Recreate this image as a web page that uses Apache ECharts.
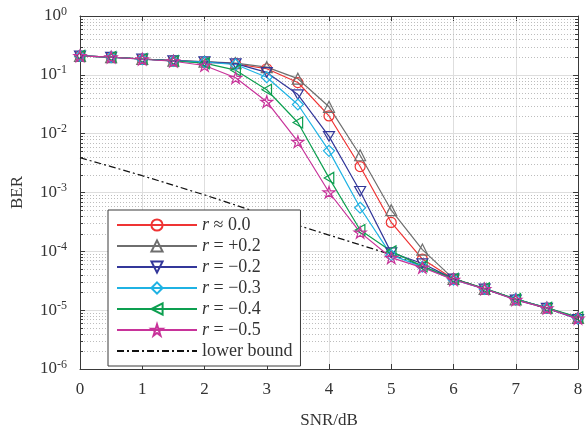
<!DOCTYPE html>
<html>
<head>
<meta charset="utf-8">
<script src="https://cdn.jsdelivr.net/npm/echarts@6/dist/echarts.min.js"></script>
<style>
  html, body { margin: 0; padding: 0; background: #fff; }
  #chart { width: 587px; height: 434px; }
</style>
</head>
<body>
<div id="chart"></div>
<script>
// SNR sweep (dB)
const snr = [0, 0.5, 1, 1.5, 2, 2.5, 3, 3.5, 4, 4.5, 5, 5.5, 6, 6.5, 7, 7.5, 8];

// BER per correlation coefficient r
const berR0   = [0.21, 0.20, 0.186, 0.174, 0.165, 0.153, 0.127, 0.074, 0.020, 0.00276, 3.1e-4, 7.4e-5, 3.4e-5, 2.3e-5, 1.53e-5, 1.1e-5, 7.3e-6];
const berRp02 = [0.21, 0.20, 0.186, 0.174, 0.168, 0.158, 0.135, 0.086, 0.0286, 0.0043, 5.0e-4, 1.07e-4, 3.4e-5, 2.3e-5, 1.53e-5, 1.1e-5, 7.4e-6];
const berRm02 = [0.21, 0.20, 0.186, 0.174, 0.167, 0.155, 0.110, 0.0462, 0.0090, 0.00105, 9.5e-5, 6.2e-5, 3.4e-5, 2.3e-5, 1.5e-5, 1.08e-5, 7.0e-6];
const berRm03 = [0.21, 0.20, 0.184, 0.172, 0.165, 0.150, 0.091, 0.0313, 0.0051, 5.5e-4, 8.6e-5, 5.5e-5, 3.3e-5, 2.3e-5, 1.55e-5, 1.1e-5, 7.3e-6];
const berRm04 = [0.21, 0.20, 0.186, 0.172, 0.158, 0.120, 0.0558, 0.0155, 0.00177, 2.3e-4, 1.0e-4, 5.6e-5, 3.4e-5, 2.35e-5, 1.55e-5, 1.1e-5, 7.6e-6];
const berRm05 = [0.21, 0.20, 0.184, 0.170, 0.144, 0.089, 0.035, 0.0073, 0.00101, 2.1e-4, 7.8e-5, 5.3e-5, 3.3e-5, 2.3e-5, 1.5e-5, 1.08e-5, 7.2e-6];
const lowerBound = [3.9e-3, 2.76e-3, 1.93e-3, 1.33e-3, 9.1e-4, 6.1e-4, 4.07e-4, 2.77e-4, 1.89e-4, 1.29e-4, 8.8e-5, 5.6e-5, 3.45e-5, 2.31e-5, 1.55e-5, 1.07e-5, 7.3e-6];

// legend labels
const seriesNames = ['{i|r} ≈ 0.0', '{i|r} = +0.2', '{i|r} = −0.2', '{i|r} = −0.3', '{i|r} = −0.4', '{i|r} = −0.5', 'lower bound'];

// axis ranges
const xMin = 0, xMax = 8, xStep = 1;
const yMin = 1e-6, yMax = 1;

// dotted minor grid positions: 2..9 within each decade
const minorGridValues = [];
for (let e = -6; e < 0; e++) {
  for (let m = 2; m <= 9; m++) minorGridValues.push(m * Math.pow(10, e));
}

const FONT = 'Liberation Serif';
const TXT = '#333333';
const AX = '#3a3a3a';

const STAR = 'path://M100,0L122.45,69.1L195.1,69.1L136.3,111.8L158.8,180.9L100,138.2L41.2,180.9L63.7,111.8L4.9,69.1L77.55,69.1Z';
const TRI_DOWN = 'path://M0,0L20,0L10,17.3Z';
const TRI_LEFT = 'path://M17.3,0L17.3,20L0,10Z';

function pairs(ys) { return snr.map((x, i) => [x, ys[i]]); }

function markerSeries(name, ys, color, symbol, size) {
  return {
    name: name,
    type: 'line',
    data: pairs(ys),
    symbol: symbol,
    symbolSize: size,
    symbolKeepAspect: true,
    showAllSymbol: true,
    lineStyle: { color: color, width: 1.2 },
    itemStyle: { color: 'rgba(255,255,255,0)', borderColor: color, borderWidth: 1.2 },
    z: 3,
    animation: false
  };
}

function pixel(v) { return Math.round(v) + 0.5; }

const chart = echarts.init(document.getElementById('chart'), null, { renderer: 'canvas' });

// the dash-dot entry shows only its line, no marker
const legendData = seriesNames.map(function (n, i) {
  return i === seriesNames.length - 1 ? { name: n, itemStyle: { opacity: 0 } } : { name: n };
});

chart.setOption({
  backgroundColor: '#fff',
  animation: false,
  grid: { left: 80, right: 9, top: 16, bottom: 57, containLabel: false },
  legend: {
    data: legendData,
    orient: 'vertical',
    left: 108,
    top: 210,
    itemWidth: 80,
    itemHeight: 14,
    itemGap: 3,
    padding: [6, 8, 6, 8],
    backgroundColor: '#fff',
    borderColor: AX,
    borderWidth: 1,
    borderRadius: 0,
    selectedMode: false,
    textStyle: {
      fontFamily: FONT, fontSize: 18, color: TXT,
      rich: { i: { fontFamily: FONT, fontSize: 18, fontStyle: 'italic', color: TXT } }
    }
  },
  xAxis: [
    {
      type: 'value', min: xMin, max: xMax, interval: xStep,
      name: 'SNR/dB', nameLocation: 'middle', nameGap: 43,
      nameTextStyle: { fontFamily: FONT, fontSize: 17, color: TXT },
      axisLine: { show: true, onZero: false, lineStyle: { color: AX, width: 1 } },
      axisTick: { show: true, inside: true, length: 5, lineStyle: { color: AX } },
      axisLabel: { fontFamily: FONT, fontSize: 17, color: TXT, margin: 12 },
      splitLine: { show: true, lineStyle: { color: '#dedede', width: 1 } }
    },
    {
      type: 'value', min: xMin, max: xMax, interval: xStep, position: 'top',
      axisLine: { show: true, onZero: false, lineStyle: { color: AX, width: 1 } },
      axisTick: { show: true, inside: true, length: 5, lineStyle: { color: AX } },
      axisLabel: { show: false },
      splitLine: { show: false }
    }
  ],
  yAxis: [
    {
      type: 'log', logBase: 10, min: yMin, max: yMax,
      name: 'BER', nameLocation: 'middle', nameGap: 54,
      nameTextStyle: { fontFamily: FONT, fontSize: 17, color: TXT },
      axisLine: { show: true, onZero: false, lineStyle: { color: AX, width: 1 } },
      axisTick: { show: true, inside: true, length: 5, lineStyle: { color: AX } },
      axisLabel: {
        fontFamily: FONT, fontSize: 17, color: TXT, margin: 13,
        formatter: function (v) {
          const e = Math.round(Math.log10(v));
          return '{b|10}{s|' + e + '}';
        },
        rich: {
          b: { fontFamily: FONT, fontSize: 17, color: TXT },
          s: { fontFamily: FONT, fontSize: 12, color: TXT, verticalAlign: 'bottom', padding: [0, 0, 9, 0] }
        }
      },
      splitLine: { show: true, lineStyle: { color: '#dedede', width: 1 } }
    },
    {
      type: 'log', logBase: 10, min: yMin, max: yMax, position: 'right',
      axisLine: { show: true, onZero: false, lineStyle: { color: AX, width: 1 } },
      axisTick: { show: true, inside: true, length: 5, lineStyle: { color: AX } },
      axisLabel: { show: false },
      splitLine: { show: false }
    }
  ],
  series: [
    {
      type: 'custom',
      name: 'minor-grid',
      silent: true,
      clip: false,
      z: 1,
      xAxisIndex: 0,
      yAxisIndex: 0,
      data: minorGridValues.map(v => [xMin, v]),
      encode: { x: 0, y: 1 },
      renderItem: function (params, api) {
        const v = api.value(1);
        const a = api.coord([xMin, v]);
        const b = api.coord([xMax, v]);
        const y = pixel(a[1]);
        const xl = Math.round(a[0]);
        const xr = Math.round(b[0]);
        return {
          type: 'group',
          children: [
            { type: 'line', shape: { x1: xl + 1, y1: y, x2: xr - 1, y2: y },
              style: { stroke: '#bdbdbd', lineWidth: 1, lineDash: [1, 2] } },
            { type: 'line', shape: { x1: xl, y1: y, x2: xl + 3, y2: y },
              style: { stroke: AX, lineWidth: 1 } },
            { type: 'line', shape: { x1: xr - 3, y1: y, x2: xr, y2: y },
              style: { stroke: AX, lineWidth: 1 } }
          ]
        };
      },
      animation: false
    },
    markerSeries(seriesNames[0], berR0,   '#ef3434', 'circle', 10),
    markerSeries(seriesNames[1], berRp02, '#6e6e6e', 'triangle', 11),
    markerSeries(seriesNames[2], berRm02, '#33379a', TRI_DOWN, 11),
    markerSeries(seriesNames[3], berRm03, '#1fb2e3', 'diamond', 11),
    markerSeries(seriesNames[4], berRm04, '#0d9f50', TRI_LEFT, 11),
    markerSeries(seriesNames[5], berRm05, '#c8339a', STAR, 12),
    {
      name: seriesNames[6],
      type: 'line',
      data: pairs(lowerBound),
      symbol: 'none',
      showSymbol: false,
      lineStyle: { color: '#111', width: 1.2, type: [7, 3, 2, 3] },
      itemStyle: { color: '#111' },
      z: 2,
      animation: false
    }
  ]
});
</script>
</body>
</html>
